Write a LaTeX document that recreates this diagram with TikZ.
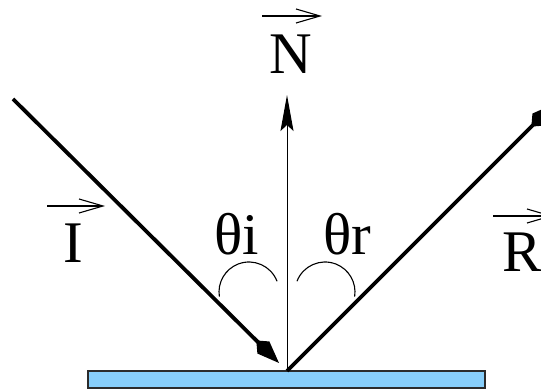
\documentclass[tikz,border=0pt]{standalone}
\usepackage{fontspec}
\setmainfont{Liberation Serif}
\usepackage{xcolor}
\usetikzlibrary{arrows.meta,positioning}
\definecolor{mirrorblue}{HTML}{87CEFA}
\definecolor{mirroredge}{HTML}{2B2B2B}

\begin{document}
\begin{tikzpicture}[x=0.5pt, y=-0.5pt,
  ray/.style={line width=1.9pt, -{Kite[length=16pt, width=8.5pt, inset=5pt]}},
  normal/.style={line width=0.5pt, -{Stealth[length=18pt, width=6.5pt, inset=3pt]}},
  vec/.style={line width=0.55pt, -{Straight Barb[length=12pt, width=7pt]}},
  angle/.style={line width=0.55pt},
  lbl/.style={font=\fontsize{29.5}{32}\selectfont, inner sep=0pt, anchor=base},
  surface/.style={fill=mirrorblue, draw=mirroredge, line width=0.8pt}
]
\useasboundingbox (0,0) rectangle (541,389);

% mirror and rays
\draw[surface] (88,371) rectangle (485,388);
\coordinate (O) at (287,371);
\coordinate (src) at (13,99);
\coordinate (hit) at (279,363);
\coordinate (ntip) at (287,95);
\coordinate (rtip) at (554,104);
\draw[ray] (src) -- (hit);
\draw[normal] (O) -- (ntip);
\draw[ray] (O) -- (rtip);

% labels
\node[lbl] (N) at (291,74) {N};
\node[lbl] (I) at (73.5,263) {I};
\node[lbl, anchor=base west] (R) at (502,272) {R};
\node[lbl] (ti) at (237,255) {θi};
\node[lbl] (tr) at (347.5,255) {θr};

\coordinate (n1) at (262,16);  \coordinate (n2) at (322,16);
\coordinate (i1) at (47,206);  \coordinate (i2) at (105,206);
\coordinate (r1) at (493,216); \coordinate (r2) at (553,216);
\draw[vec] (n1) -- (n2);
\draw[vec] (i1) -- (i2);
\draw[vec] (r1) -- (r2);

% angle marks
\coordinate (ci) at (249,292);
\coordinate (cr) at (325,292);
\draw[angle] (ci) ++(-21:30) arc[start angle=-21, end angle=-189, radius=30];
\draw[angle] (cr) ++(-159:30) arc[start angle=-159, end angle=9, radius=30];
\end{tikzpicture}
\end{document}
